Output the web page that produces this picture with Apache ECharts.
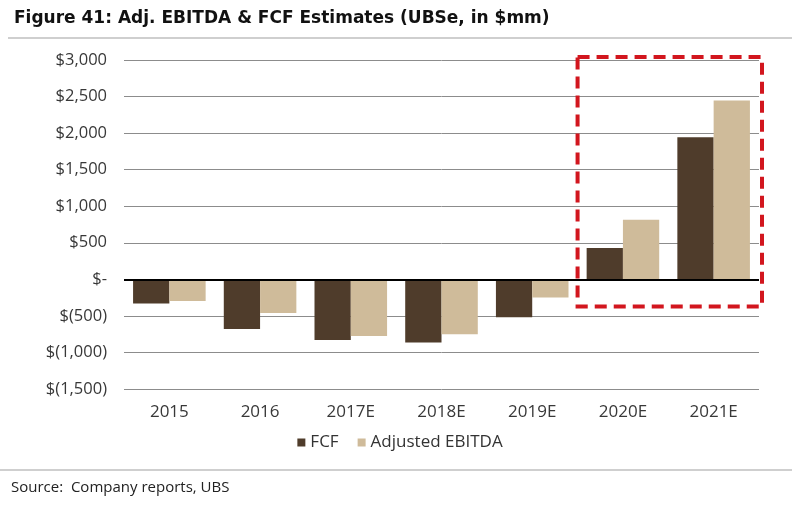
<!DOCTYPE html>
<html><head><meta charset="utf-8">
<script src="https://cdn.jsdelivr.net/npm/echarts@6/dist/echarts.min.js"></script>
<style>html,body{margin:0;padding:0;background:#fff}#c{width:800px;height:508px}</style>
</head><body><div id="c"></div>
<script>
var categories = ['2015','2016','2017E','2018E','2019E','2020E','2021E'];
var fcf = [-330, -680, -830, -865, -520, 430, 1945];
var ebitda = [-295, -460, -775, -750, -250, 815, 2445];
var yTicks = {min: -1500, max: 3000, interval: 500};
var highlightCats = ['2020E', '2021E'];
var highlightRange = [-370, 3040];

function fmt(v){
  if (v === 0) return '$-';
  var s = Math.abs(v).toLocaleString('en-US');
  return v < 0 ? '$(' + s + ')' : '$' + s;
}
var FONT = '"Open Sans", "Noto Sans", sans-serif';
var chart = echarts.init(document.getElementById('c'));
chart.setOption({
  animation: false,
  title: {text: 'Figure 41: Adj. EBITDA & FCF Estimates (UBSe, in $mm)', left: 9, top: 5,
    textStyle: {fontFamily: '"DejaVu Sans", sans-serif', fontWeight: 'bold', fontSize: 17, color: '#111'}},
  grid: {left: 124, right: 41, top: 60, bottom: 119},
  legend: {top: 429, left: 'center', itemWidth: 8, itemHeight: 8, itemGap: 19, icon: 'rect',
    textStyle: {fontFamily: FONT, fontSize: 17, color: '#333'},
    data: ['FCF', 'Adjusted EBITDA']},
  xAxis: {type: 'category', data: categories,
    axisLine: {show: false, onZero: false}, axisTick: {show: false},
    axisLabel: {margin: 15, fontFamily: FONT, fontSize: 17, color: '#383838'}},
  yAxis: {type: 'value', min: yTicks.min, max: yTicks.max, interval: yTicks.interval,
    axisLine: {show: false}, axisTick: {show: false},
    splitLine: {lineStyle: {color: '#8c8c8c', width: 1}},
    axisLabel: {margin: 17, fontFamily: FONT, fontSize: 16.5, color: '#383838', formatter: fmt}},
  series: [
    {name: 'FCF', type: 'bar', data: fcf, barGap: '0%', barCategoryGap: '20%',
      itemStyle: {color: '#4f3c2b'},
      markLine: {silent: true, symbol: 'none', label: {show: false},
        lineStyle: {color: '#000', width: 2, type: 'solid'}, data: [{yAxis: 0}]}},
    {name: 'Adjusted EBITDA', type: 'bar', data: ebitda, barGap: '0%', barCategoryGap: '20%',
      itemStyle: {color: '#cfbb9a'}}
  ]
});
var c1 = chart.convertToPixel({xAxisIndex: 0}, highlightCats[0]);
var c2 = chart.convertToPixel({xAxisIndex: 0}, highlightCats[1]);
var band = c2 - c1;
var yTop = chart.convertToPixel({yAxisIndex: 0}, highlightRange[1]);
var yBot = chart.convertToPixel({yAxisIndex: 0}, highlightRange[0]);
var x1 = c1 - band / 2, x2 = c2 + band / 2 + 3;
chart.setOption({
  graphic: [
    {type: 'line', shape: {x1: 8, y1: 38, x2: 792, y2: 38}, style: {stroke: '#cfcfcf', lineWidth: 2}},
    {type: 'line', shape: {x1: 0, y1: 470, x2: 792, y2: 470}, style: {stroke: '#cfcfcf', lineWidth: 2}},
    {type: 'text', left: 11, top: 480, style: {text: 'Source:  Company reports, UBS', font: '15px ' + FONT, fill: '#222'}},
    {type: 'rect', shape: {x: x1, y: yTop, width: x2 - x1, height: yBot - yTop}, z: 100,
      style: {fill: 'none', stroke: '#d2161e', lineWidth: 4, lineDash: [12, 7]}}
  ]
});
</script></body></html>
